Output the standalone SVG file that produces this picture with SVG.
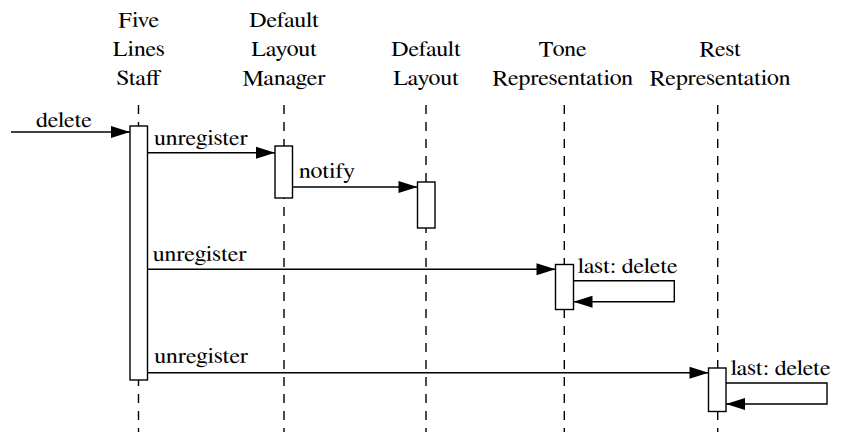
<svg xmlns="http://www.w3.org/2000/svg" width="844" height="432" viewBox="0 0 844 432">
  <style>
    .life { stroke: #000; stroke-width: 1.4; stroke-dasharray: 9 8; fill: none; }
    .act { fill: #fff; stroke: #000; stroke-width: 1.4; }
    .msg { stroke: #000; stroke-width: 1.4; fill: none; marker-end: url(#arrow); }
    .lbl { font-family: FreeSerif, "Liberation Serif", "Times New Roman", serif; font-size: 21.5px; fill: #000; }
    .hdr { text-anchor: middle; }
  </style>
  <defs>
    <marker id="arrow" markerUnits="userSpaceOnUse" markerWidth="24" markerHeight="16" refX="19" refY="6" orient="auto" overflow="visible">
      <path d="M0,0 L19,6 L0,12 z" fill="#000"/>
    </marker>
  </defs>
  <rect width="844" height="432" fill="#fff"/>

  <!-- lifelines with their headers and activation bars; text is widened 1.116x -->
  <g id="five-lines-staff">
    <line class="life" x1="138.5" y1="105" x2="138.5" y2="432"/>
    <g class="lbl" transform="scale(1.116 1)">
      <text class="hdr" x="124.4" y="27">Five</text>
      <text class="hdr" x="124.4" y="56">Lines</text>
      <text class="hdr" x="124.4" y="85">Staff</text>
    </g>
    <rect class="act" x="130" y="126" width="17.5" height="254"/>
  </g>

  <g id="default-layout-manager">
    <line class="life" x1="284" y1="105" x2="284" y2="432"/>
    <g class="lbl" transform="scale(1.116 1)">
      <text class="hdr" x="254.5" y="27">Default</text>
      <text class="hdr" x="254.5" y="56">Layout</text>
      <text class="hdr" x="254.5" y="85">Manager</text>
    </g>
    <rect class="act" x="275" y="146" width="17.5" height="52"/>
  </g>

  <g id="default-layout">
    <line class="life" x1="426" y1="105" x2="426" y2="432"/>
    <g class="lbl" transform="scale(1.116 1)">
      <text class="hdr" x="381.7" y="56">Default</text>
      <text class="hdr" x="381.7" y="85">Layout</text>
    </g>
    <rect class="act" x="417.5" y="182" width="17.5" height="46"/>
  </g>

  <g id="tone-representation">
    <line class="life" x1="564.3" y1="105" x2="564.3" y2="432"/>
    <g class="lbl" transform="scale(1.116 1)">
      <text class="hdr" x="504.2" y="56">Tone</text>
      <text class="hdr" x="504.2" y="85">Representation</text>
    </g>
    <rect class="act" x="555.5" y="264.5" width="18" height="45"/>
  </g>

  <g id="rest-representation">
    <line class="life" x1="717.7" y1="105" x2="717.7" y2="432"/>
    <g class="lbl" transform="scale(1.116 1)">
      <text class="hdr" x="645.3" y="56">Rest</text>
      <text class="hdr" x="645.3" y="85">Representation</text>
    </g>
    <rect class="act" x="708.5" y="368" width="17.5" height="43.5"/>
  </g>

  <!-- messages -->
  <g id="connectors">
    <line class="msg" x1="11" y1="132" x2="130" y2="132"/>
    <line class="msg" x1="147.5" y1="152.7" x2="275" y2="152.7"/>
    <line class="msg" x1="292.5" y1="187" x2="417.5" y2="187"/>
    <line class="msg" x1="147.5" y1="269.3" x2="555.5" y2="269.3"/>
    <line class="msg" x1="147.5" y1="372.7" x2="708.5" y2="372.7"/>
    <polyline class="msg" points="573.5,280.7 674.3,280.7 674.3,301.7 573.5,301.7"/>
    <polyline class="msg" points="726,383 827,383 827,404 726,404"/>
    <g class="lbl" transform="scale(1.116 1)">
      <text x="32.3" y="126.7">delete</text>
      <text x="138" y="145.5">unregister</text>
      <text x="267.9" y="178.3">notify</text>
      <text x="136.8" y="260.7">unregister</text>
      <text x="138.3" y="362.7">unregister</text>
      <text x="517.7" y="272.7">last: delete</text>
      <text x="654.7" y="375">last: delete</text>
    </g>
  </g>
</svg>
